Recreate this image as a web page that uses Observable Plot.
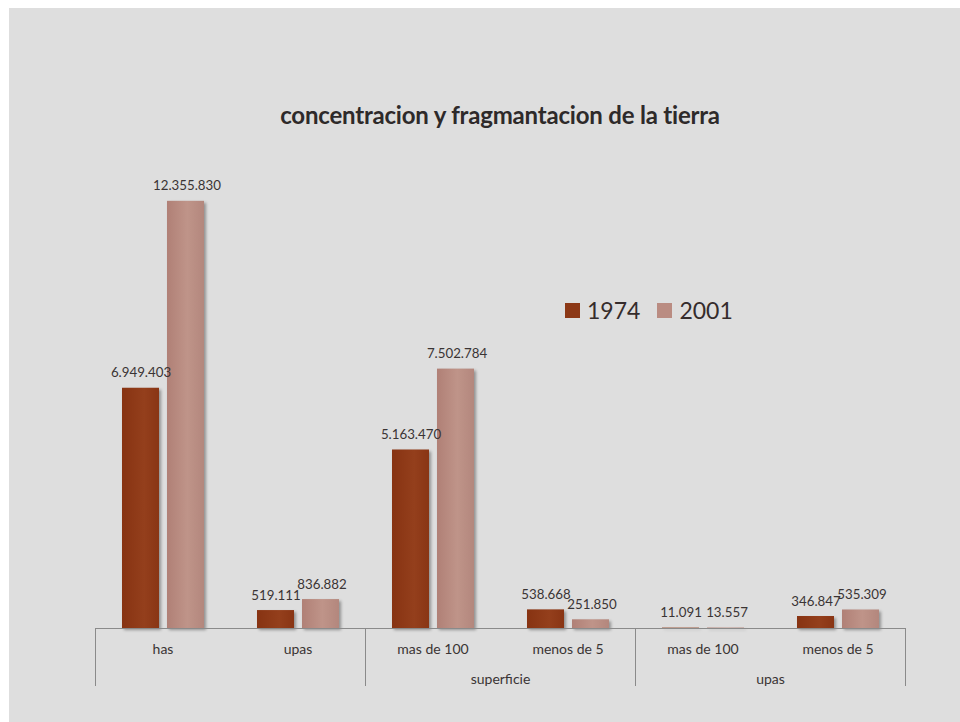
<!DOCTYPE html>
<html>
<head>
<meta charset="utf-8">
<script src="https://cdn.jsdelivr.net/npm/d3@7"></script>
<script src="https://cdn.jsdelivr.net/npm/@observablehq/plot@0.6"></script>
<style>
  html, body { margin: 0; padding: 0; background: #ffffff; }
  #page { position: relative; width: 960px; height: 722px; overflow: hidden; font-family: Lato, "Open Sans", sans-serif; }
  #bg { position: absolute; left: 9px; top: 8px; right: 0; bottom: 0; background: #dedede; }
  #title { position: absolute; left: 95px; width: 810px; top: 100px; text-align: center; font-size: 24px; font-weight: bold; color: #2e2a2a; letter-spacing: -0.2px; }
  #legend { position: absolute; left: 565px; top: 296px; font-size: 23px; color: #352c2c; display: flex; align-items: center; }
  #legend .sw { display: inline-block; width: 15px; height: 15px; margin-right: 7px; }
  #legend .item { display: flex; align-items: center; margin-right: 17px; }
  #chart { position: absolute; left: 0; top: 134px; }
  #chart g[aria-label="rect"] rect { filter: drop-shadow(2px 2px 1.5px rgba(0,0,0,0.35)); }
</style>
</head>
<body>
<div id="page">
  <div id="bg"></div>
  <div id="title">concentracion y fragmantacion de la tierra</div>
  <div id="legend"></div>
  <div id="chart"></div>
</div>
<script>
const categories = ["has", "upas", "mas de 100", "menos de 5", "mas de 100", "menos de 5"];
const groups = ["", "", "superficie", "superficie", "upas", "upas"];
const series = ["1974", "2001"];
const values1974 = [6949403, 519111, 5163470, 538668, 11091, 346847];
const values2001 = [12355830, 836882, 7502784, 251850, 13557, 535309];
const colors = ["#8c3816", "#ba8c82"];

const fmt = v => d3.format(",")(v).replace(/,/g, ".");

const rows = [];
categories.forEach((c, i) => {
  rows.push({i, cat: c, group: groups[i], year: series[0], value: values1974[i]});
  rows.push({i, cat: c, group: groups[i], year: series[1], value: values2001[i]});
});
const r1974 = rows.filter(d => d.year === series[0]);
const r2001 = rows.filter(d => d.year === series[1]);

// group boundaries and centers from the groups array
const bounds = [0];
const groupCenters = [];
let start = 0;
for (let i = 1; i <= groups.length; i++) {
  if (i === groups.length || groups[i] !== groups[start]) {
    bounds.push(i);
    groupCenters.push({pos: (start + i) / 2, label: groups[start]});
    start = i;
  }
}

const catTicks = categories.map((c, i) => i + 0.5);

const chart = Plot.plot({
  width: 960,
  height: 580,
  marginLeft: 95,
  marginRight: 55,
  marginTop: 10,
  marginBottom: 86,
  style: {background: "transparent", fontFamily: "Lato, 'Open Sans', sans-serif"},
  x: {type: "linear", domain: [0, categories.length], axis: null},
  y: {domain: [0, 14000000], axis: null},
  marks: [
    Plot.rectY(r1974, {x1: d => d.i, x2: d => d.i + 1, y: "value", fill: "url(#g1974)", insetLeft: 27, insetRight: 71}),
    Plot.rectY(r2001, {x1: d => d.i, x2: d => d.i + 1, y: "value", fill: "url(#g2001)", insetLeft: 72, insetRight: 26}),
    Plot.ruleY([0], {stroke: "#8a8a8a", strokeWidth: 1}),
    Plot.axisX({ticks: bounds, tickSize: 58, tickFormat: () => "", stroke: "#8a8a8a", strokeOpacity: 1, anchor: "bottom"}),
    Plot.axisX({ticks: catTicks, tickSize: 0, tickPadding: 16, tickFormat: t => categories[Math.floor(t)], fill: "#3a3434", fontSize: 14, anchor: "bottom"}),
    Plot.axisX({ticks: groupCenters.map(g => g.pos), tickSize: 0, tickPadding: 46, tickFormat: t => (groupCenters.find(g => g.pos === t) || {}).label, fill: "#3a3434", fontSize: 14, anchor: "bottom"}),
    Plot.text(r1974, {x: d => d.i + 0.5, y: "value", dx: -22, dy: -11, text: d => fmt(d.value), fill: "#3a3434", fontSize: 13.3, lineAnchor: "bottom"}),
    Plot.text(r2001, {x: d => d.i + 0.5, y: "value", dx: 24, dy: -11, text: d => fmt(d.value), fill: "#3a3434", fontSize: 13.3, lineAnchor: "bottom"})
  ]
});

// gradients for the bars
const svg = d3.select(chart);
const defs = svg.insert("defs", ":first-child");
const g1 = defs.append("linearGradient").attr("id", "g1974").attr("x1", "0").attr("x2", "1").attr("y1", "0").attr("y2", "0");
g1.append("stop").attr("offset", "0%").attr("stop-color", "#873312");
g1.append("stop").attr("offset", "60%").attr("stop-color", "#943f1c");
g1.append("stop").attr("offset", "100%").attr("stop-color", "#893514");
const g2 = defs.append("linearGradient").attr("id", "g2001").attr("x1", "0").attr("x2", "1").attr("y1", "0").attr("y2", "0");
g2.append("stop").attr("offset", "0%").attr("stop-color", "#b08076");
g2.append("stop").attr("offset", "55%").attr("stop-color", "#bf9489");
g2.append("stop").attr("offset", "100%").attr("stop-color", "#b3877d");

document.getElementById("chart").appendChild(chart);

const legend = document.getElementById("legend");
series.forEach((s, k) => {
  const item = document.createElement("span");
  item.className = "item";
  const sw = document.createElement("span");
  sw.className = "sw";
  sw.style.background = k === 0 ? colors[0] : colors[1];
  item.appendChild(sw);
  item.appendChild(document.createTextNode(s));
  legend.appendChild(item);
});
</script>
</body>
</html>
